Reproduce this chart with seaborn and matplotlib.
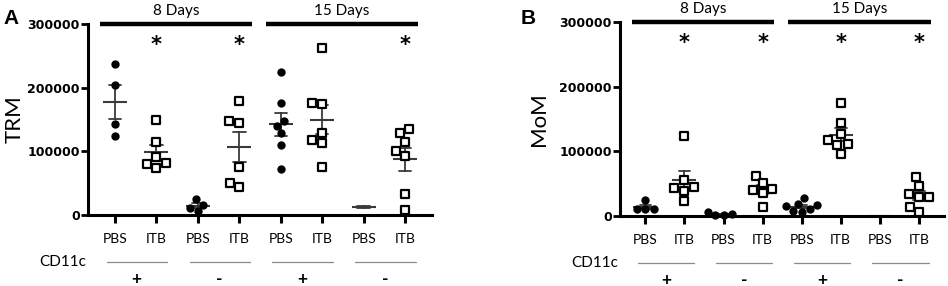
import pandas as pd
import matplotlib.pyplot as plt
import seaborn as sns

groups = ['g1', 'g2', 'g3', 'g4', 'g5', 'g6', 'g7', 'g8']
treatments = ['PBS', 'ITB', 'PBS', 'ITB', 'PBS', 'ITB', 'PBS', 'ITB']
cd11c_signs = ['+', '-', '+', '-']
day_labels = ['8 Days', '15 Days']
yticks = [0, 100000, 200000, 300000]

# TRM counts (panel A)
trm_8d_pos_pbs = [237000, 205000, 143500, 124000]
trm_8d_pos_itb = [150000, 115500, 90500, 74500, 81500, 79500]
trm_8d_neg_pbs = [6000, 16500, 25000, 10500]
trm_8d_neg_itb = [179500, 147000, 145000, 75000, 44500, 50000]
trm_15d_pos_pbs = [225000, 175500, 147000, 140500, 129000, 109500, 72000]
trm_15d_pos_itb = [262000, 176500, 174500, 128500, 118000, 113000, 75500]
trm_15d_neg_pbs = [10500, 13500]
trm_15d_neg_itb = [135500, 128500, 115500, 100000, 93000, 33500, 7500]
trm_stars = [1, 3, 7]

# MoM counts (panel B)
mom_8d_pos_pbs = [24000, 10000, 10500, 11000]
mom_8d_pos_itb = [124000, 55500, 45000, 42500, 39000, 23500]
mom_8d_neg_pbs = [1500, 5500, 2500, 1500]
mom_8d_neg_itb = [62500, 50500, 41500, 40000, 35000, 14500]
mom_15d_pos_pbs = [27500, 18000, 17000, 15000, 6500, 7000, 10000]
mom_15d_pos_itb = [175000, 143500, 127000, 118000, 111500, 110500, 96000]
mom_15d_neg_pbs = [300, 500]
mom_15d_neg_itb = [61000, 46500, 29500, 29500, 34000, 14500, 6500]
mom_stars = [1, 3, 5, 7]

# groups whose points are not shown (only mean/SEM visible in the original)
hidden = ['g7']

trm = [trm_8d_pos_pbs, trm_8d_pos_itb, trm_8d_neg_pbs, trm_8d_neg_itb,
       trm_15d_pos_pbs, trm_15d_pos_itb, trm_15d_neg_pbs, trm_15d_neg_itb]
mom = [mom_8d_pos_pbs, mom_8d_pos_itb, mom_8d_neg_pbs, mom_8d_neg_itb,
       mom_15d_pos_pbs, mom_15d_pos_itb, mom_15d_neg_pbs, mom_15d_neg_itb]


def make_frame(series):
    rows = []
    for g, t, vals in zip(groups, treatments, series):
        for v in vals:
            rows.append((g, t, v))
    return pd.DataFrame(rows, columns=['group', 'treat', 'value'])


sns.set_style('ticks')
plt.rcParams['font.family'] = ['Lato', 'DejaVu Sans']
plt.rcParams.update({'text.color': 'black', 'axes.labelcolor': 'black',
                     'xtick.color': 'black', 'ytick.color': 'black',
                     'axes.edgecolor': 'black'})


def draw(ax, df, ylabel, stars, label_x):
    pbs = df[(df.treat == 'PBS') & (~df.group.isin(hidden))]
    itb = df[df.treat == 'ITB']
    sns.swarmplot(data=pbs, x='group', y='value', order=groups, color='black',
                  marker='o', size=6, ax=ax)
    sns.swarmplot(data=itb, x='group', y='value', order=groups, color='white',
                  edgecolor='black', linewidth=1.6, marker='s', size=5.5, ax=ax)
    sns.pointplot(data=df, x='group', y='value', order=groups, errorbar='se',
                  capsize=0.3, color='#3a3a3a', linestyle='none', marker='_',
                  markersize=17, markeredgewidth=1.5, err_kws={'linewidth': 1.3}, ax=ax)
    for c in ax.collections:
        c.set_clip_on(False)

    ax.set_xlim(-0.65, 7.65)
    ax.set_ylim(0, 300000)
    ax.set_xticks(range(8))
    ax.set_xticklabels(treatments, fontsize=10)
    ax.set_yticks(yticks)
    ax.set_yticklabels([str(v) for v in yticks], fontsize=9, fontweight='bold',
                       family='DejaVu Sans')
    ax.set_xlabel('')
    ax.set_ylabel(ylabel, fontsize=16)
    ax.yaxis.set_label_coords(label_x, 0.5)
    sns.despine(ax=ax)
    for s in ['left', 'bottom']:
        ax.spines[s].set_linewidth(2.2)
    ax.tick_params(axis='x', length=6, width=2.2, pad=7)
    ax.tick_params(axis='y', length=5, width=2, pad=1)

    # day bars on top
    for i, lab in enumerate(day_labels):
        x0 = i * 4 - 0.35
        x1 = i * 4 + 3.3
        ax.plot([x0, x1], [300000, 300000], color='black', lw=3.2,
                clip_on=False, solid_capstyle='butt')
        ax.annotate(lab, xy=((x0 + x1) / 2, 300000), xytext=(0, 4),
                    textcoords='offset points', ha='center', va='bottom',
                    fontsize=11, annotation_clip=False)
    for s in stars:
        ax.annotate('*', xy=(s, 300000), xytext=(0, -8), textcoords='offset points',
                    ha='center', va='top', fontsize=15, fontweight='bold',
                    family='DejaVu Sans', annotation_clip=False)

    # CD11c row
    tr = ax.get_xaxis_transform()
    ax.annotate('CD11c', xy=(0, 0), xycoords='axes fraction', xytext=(-1, -34),
                textcoords='offset points', ha='right', va='center', fontsize=11)
    for i, sign in enumerate(cd11c_signs):
        x0 = i * 2 - 0.2
        x1 = i * 2 + 1.25
        ax.plot([x0, x1], [-0.245, -0.245], transform=tr, color='#8a8a8a',
                lw=0.9, clip_on=False)
        ax.annotate(sign, xy=((x0 + x1) / 2, 0), xycoords=tr, xytext=(0, -46),
                    textcoords='offset points', ha='center', va='center',
                    fontsize=12.5, fontweight='bold')


fig = plt.figure(figsize=(9.48, 2.86), dpi=100)
ax_a = fig.add_axes([0.0928, 0.248, 0.363, 0.668])
ax_b = fig.add_axes([0.654, 0.245, 0.342, 0.678])

draw(ax_a, make_frame(trm), 'TRM', trm_stars, -0.185)
draw(ax_b, make_frame(mom), 'MoM', mom_stars, -0.22)

fig.text(0.004, 0.97, 'A', fontsize=15, fontweight='bold', va='top',
         family='Liberation Sans')
fig.text(0.549, 0.97, 'B', fontsize=15, fontweight='bold', va='top',
         family='Liberation Sans')

plt.savefig('out.png', dpi=100)
